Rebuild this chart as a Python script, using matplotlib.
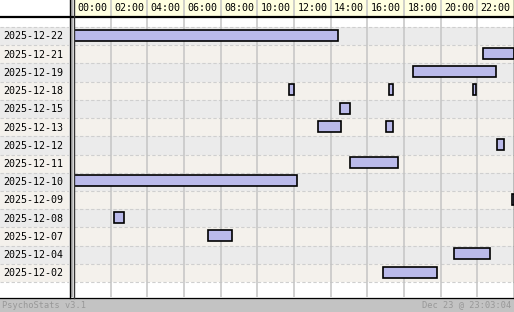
import matplotlib
matplotlib.use("Agg")
import matplotlib.pyplot as plt
from matplotlib.patches import Rectangle

# ---- data ----
dates = ['2025-12-22', '2025-12-21', '2025-12-19', '2025-12-18', '2025-12-15',
         '2025-12-13', '2025-12-12', '2025-12-11', '2025-12-10', '2025-12-09',
         '2025-12-08', '2025-12-07', '2025-12-04', '2025-12-02']
hour_labels = ['00:00', '02:00', '04:00', '06:00', '08:00', '10:00',
               '12:00', '14:00', '16:00', '18:00', '20:00', '22:00']
session_date = ['2025-12-22', '2025-12-21', '2025-12-19', '2025-12-18', '2025-12-18',
                '2025-12-18', '2025-12-15', '2025-12-13', '2025-12-13', '2025-12-12',
                '2025-12-11', '2025-12-10', '2025-12-09', '2025-12-08', '2025-12-07',
                '2025-12-04', '2025-12-02']
session_start = [0.0, 22.33, 18.5, 11.75, 17.2, 21.78, 14.53, 13.33, 17.04, 23.09,
                 15.07, 0.0, 23.87, 2.2, 7.33, 20.75, 16.87]
session_end = [14.42, 24.0, 23.04, 11.98, 17.39, 21.91, 15.04, 14.55, 17.42, 23.44,
               17.66, 12.18, 24.0, 2.71, 8.64, 22.68, 19.78]
footer_left = 'PsychoStats v3.1'
footer_right = 'Dec 23 @ 23:03:04'

W, H = 514, 312
DPI = 100
fig = plt.figure(figsize=(W / DPI, H / DPI), dpi=DPI)
fig.patch.set_facecolor('white')

def rect(x0, y0, x1, y1):
    # pixel rect (top-left origin) -> figure fraction [l, b, w, h]
    return [x0 / W, 1 - y1 / H, (x1 - x0) / W, (y1 - y0) / H]

GREY = '#ebebeb'
BEIGE = '#f4f1ec'
MONO = 'DejaVu Sans Mono'
n = len(dates)
ylim = (n - 1 + 0.5 + 0.82, -0.5 - 0.55)

# ---- background decoration axes (pixel coords) ----
bg = fig.add_axes([0, 0, 1, 1])
bg.set_xlim(0, W)
bg.set_ylim(H, 0)
bg.axis('off')
bg.add_patch(Rectangle((0, 297.5), W, H - 297.5, facecolor='#c3c3c3', edgecolor='none'))
bg.text(2, 305, footer_left, fontsize=6.2, family=MONO, color='#989898', va='center', ha='left')
bg.text(511, 305, footer_right, fontsize=6.2, family=MONO, color='#989898', va='center', ha='right')

# ---- label column ----
lab = fig.add_axes(rect(0, 17, 69, 297))
lab.set_xlim(0, 69)
lab.set_ylim(*ylim)
lab.axis('off')
for i, d in enumerate(dates):
    lab.add_patch(Rectangle((0, i - 0.5), 69, 1, facecolor=GREY if i % 2 == 0 else BEIGE,
                            edgecolor='none'))
    lab.text(3, i + 0.02, d, fontsize=7.2, family=MONO, va='center', ha='left', color='black')
    lab.axhline(i - 0.5, color='#cfcfcf', lw=0.8, ls=(0, (3, 2)))
lab.axhline(n - 0.5, color='#cfcfcf', lw=0.8, ls=(0, (3, 2)))

# ---- main chart ----
ax = fig.add_axes(rect(74, 17, 514, 297))
ax.set_xlim(0, 24)
ax.set_ylim(*ylim)
ax.axis('off')
for i in range(n):
    ax.axhspan(i - 0.5, i + 0.5, facecolor=GREY if i % 2 == 0 else BEIGE, edgecolor='none', zorder=0)
    ax.axhline(i - 0.5, color='#cfcfcf', lw=0.8, ls=(0, (3, 2)), zorder=1)
ax.axhline(n - 0.5, color='#cfcfcf', lw=0.8, ls=(0, (3, 2)), zorder=1)
for h in range(2, 24, 2):
    ax.axvline(h, color='#c4c4c4', lw=1.1, zorder=1)
rows = [dates.index(d) - 0.05 for d in session_date]
widths = [e - s for s, e in zip(session_start, session_end)]
ax.barh(rows, widths, left=session_start, height=0.6, color='#babaea',
        edgecolor='black', linewidth=1.2, zorder=3)

# ---- header ----
hd = fig.add_axes(rect(74, 0, 514, 16))
hd.set_xlim(0, 24)
hd.set_ylim(0, 1)
hd.axis('off')
for k, lbl in enumerate(hour_labels):
    hd.add_patch(Rectangle((2 * k, 0), 2, 1, facecolor='#ffffe0', edgecolor='none'))
    hd.text(2 * k + 1, 0.47, lbl, fontsize=7.2, family=MONO, ha='center', va='center')
for h in range(2, 24, 2):
    hd.axvline(h, color='#c4c4c4', lw=1.1)

# ---- frame lines (pixel coords, on top) ----
top = fig.add_axes([0, 0, 1, 1])
top.set_xlim(0, W)
top.set_ylim(H, 0)
top.axis('off')
top.patch.set_alpha(0)
top.plot([0, W], [16.5, 16.5], color='black', lw=1.6)
top.plot([0, W], [297.5, 297.5], color='black', lw=0.9)
top.add_patch(Rectangle((70, 0), 3.2, 297, facecolor='#b4b4b4', edgecolor='none'))
top.plot([69.5, 69.5], [0, 297.5], color='black', lw=1.0)
top.plot([73.6, 73.6], [0, 297.5], color='#333333', lw=1.0)
top.plot([513.5, 513.5], [0, 297.5], color='black', lw=1.0)

fig.savefig('out.png', dpi=DPI)
